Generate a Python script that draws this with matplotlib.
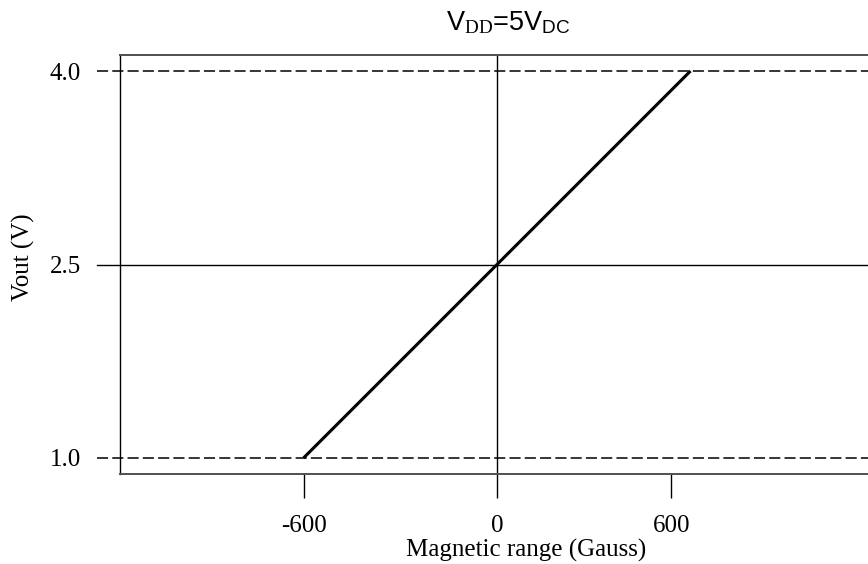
import matplotlib
matplotlib.use("Agg")
import matplotlib.pyplot as plt
import matplotlib.transforms as mtransforms

# ---- data ----
field_gauss = [-600, 600]          # magnetic range (Gauss)
vout_volts = [1.0, 4.0]            # output voltage (V)
ref_levels = [1.0, 2.5, 4.0]       # reference levels
ref_styles = ["dashed", "solid", "dashed"]
ytick_labels = ["1.0", "2.5", "4.0"]
xtick_pos = [-600, 0, 540]
xtick_labels = ["-600", "0", "600"]

plt.rcParams["font.family"] = ["Liberation Serif", "DejaVu Serif"]
plt.rcParams["mathtext.fontset"] = "custom"
plt.rcParams["mathtext.rm"] = "Liberation Serif"
plt.rcParams["mathtext.sf"] = "Liberation Sans"
plt.rcParams["mathtext.it"] = "Liberation Serif:italic"
plt.rcParams["lines.scale_dashes"] = False

W, H = 868, 564
fig = plt.figure(figsize=(W / 100, H / 100), dpi=100)
ax = fig.add_axes([120 / W, (H - 474) / H, (869 - 120) / W, (474 - 55) / H])

ppg = 193.5 / 600.0
ax.set_xlim((120 - 497) / ppg, (869 - 497) / ppg)
ppv = 129.0
ax.set_ylim(1.0 - 16 / ppv, 4.0 + 16 / ppv)

# reference horizontal lines, extending out to the left as ticks
trans = mtransforms.blended_transform_factory(ax.transAxes, ax.transData)
x_start = -23 / 749
for lvl, st in zip(ref_levels, ref_styles):
    if st == "dashed":
        ax.plot([x_start, 1], [lvl, lvl], transform=trans, color="black",
                lw=1.1, dashes=(8, 3), clip_on=False, zorder=2)
    else:
        ax.plot([x_start, 1], [lvl, lvl], transform=trans, color="black",
                lw=1.0, clip_on=False, zorder=2)

ax.axvline(0, color="black", lw=1.0, zorder=2)

ax.plot(field_gauss, vout_volts, color="black", lw=2.2, zorder=3,
        solid_capstyle="butt")

ax.set_yticks(ref_levels)
ax.set_yticklabels(ytick_labels)
ax.set_xticks(xtick_pos)
ax.set_xticklabels(xtick_labels)
ax.tick_params(axis="y", length=16.6, color="none", pad=11.5, labelsize=18)
ax.tick_params(axis="x", length=17.3, width=1.0, color="black", pad=12,
               labelsize=18)

ax.spines["right"].set_visible(False)
ax.spines["left"].set_color("black")
ax.spines["left"].set_linewidth(1.0)
for s in ("top", "bottom"):
    ax.spines[s].set_color("#505050")
    ax.spines[s].set_linewidth(1.4)

fig.text(508 / W, 1 - 23 / H, r"V$_{\mathrm{DD}}$=5V$_{\mathsf{DC}}$",
         family=["Liberation Sans", "DejaVu Sans"], fontsize=19.5,
         ha="center", va="center")
fig.text(23 / W, 1 - 257 / H, "Vout (V)", rotation=90, ha="center",
         va="center", fontsize=18)
fig.text(526 / W, 1 - 557 / H, "Magnetic range (Gauss)", ha="center",
         va="baseline", fontsize=18)

fig.savefig("out.png", dpi=100)
